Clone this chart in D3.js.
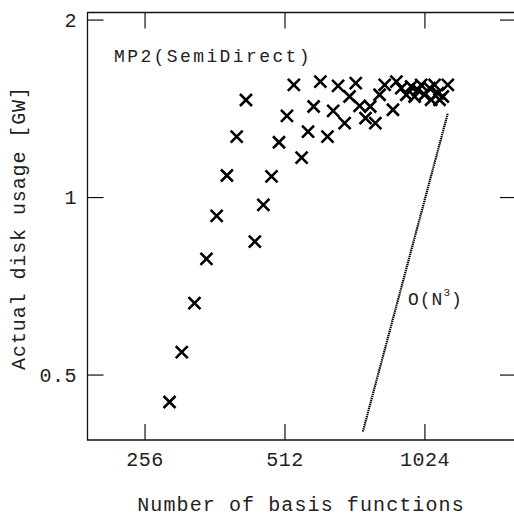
<!DOCTYPE html>
<html>
<head>
<meta charset="utf-8">
<script src="https://cdn.jsdelivr.net/npm/d3@7"></script>
<style>
  body { margin: 0; background: white; overflow: hidden; }
  svg { display: block; }
  text { font-family: "Liberation Mono", "Courier New", monospace; fill: #222; }
</style>
</head>
<body>
<div id="chart"></div>
<script>
/* global d3 */

// Number of basis functions (x) and disk usage in GW (y)
var basisFunctions = [ 289, 307, 327, 347, 365, 384, 403, 422, 441, 460,
  479, 497, 517, 535, 556, 574, 590, 610, 632, 650,
  666, 688, 705, 727, 741, 763, 781, 801, 818, 839,
  874, 889, 911, 934, 957, 973, 989, 1005, 1022, 1048,
  1056, 1074, 1092, 1101, 1119, 1147 ];
var diskUsage = [ 0.450, 0.547, 0.662, 0.787, 0.931, 1.090, 1.269, 1.464, 0.842, 0.972,
  1.086, 1.241, 1.376, 1.553, 1.169, 1.294, 1.427, 1.573, 1.269, 1.403,
  1.547, 1.337, 1.484, 1.563, 1.431, 1.364, 1.427, 1.337, 1.494, 1.553,
  1.409, 1.573, 1.533, 1.494, 1.543, 1.484, 1.523, 1.553, 1.494, 1.533,
  1.465, 1.553, 1.503, 1.465, 1.484, 1.553 ];

// O(N^3) guide line end points
var guideN = [ 753, 1147 ];
var guideV = [ 0.401, 1.390 ];

var xTicks = [ 256, 512, 1024 ];
var yTicks = [ 0.5, 1, 2 ];
var yTickLabels = [ "0.5", "1", "2" ];

var width = 514,
  height = 517;

var data = basisFunctions.map( function( n, i ) { return [ n, diskUsage[ i ] ]; } );

// right edge of the frame lies outside the picture
var x = d3.scaleLog().base( 2 )
  .domain( [ 192.5, 1640 ] )
  .range( [ 87.5, 520 ] );

var y = d3.scaleLog().base( 2 )
  .domain( [ 0.388, 2.06 ] )
  .range( [ 440, 12.5 ] );

var svg = d3.select( "#chart" ).append( "svg" )
  .attr( "width", width )
  .attr( "height", height );

var x0 = x.range()[ 0 ];
var y0 = y.range()[ 0 ], y1 = y.range()[ 1 ];

// frame: left, top and bottom only (the right side is cut off)
svg.append( "path" )
  .attr( "d", "M" + width + "," + y1 + "H" + x0 + "V" + y0 + "H" + width )
  .style( "fill", "none" )
  .style( "stroke", "#111" )
  .style( "stroke-width", 1.3 );

// inward ticks on all four sides
var tickLen = 16;
var ticks = svg.append( "g" )
  .style( "stroke", "#111" )
  .style( "stroke-width", 1.2 );

xTicks.forEach( function( t ) {
  ticks.append( "line" ).attr( "x1", x( t ) ).attr( "x2", x( t ) )
    .attr( "y1", y0 ).attr( "y2", y0 - tickLen );
  ticks.append( "line" ).attr( "x1", x( t ) ).attr( "x2", x( t ) )
    .attr( "y1", y1 ).attr( "y2", y1 + tickLen );
} );

yTicks.forEach( function( t ) {
  ticks.append( "line" ).attr( "x1", x0 ).attr( "x2", x0 + tickLen )
    .attr( "y1", y( t ) ).attr( "y2", y( t ) );
  ticks.append( "line" ).attr( "x1", width ).attr( "x2", width - tickLen + 2 )
    .attr( "y1", y( t ) ).attr( "y2", y( t ) );
} );

// tick labels
svg.selectAll( ".label.x" )
  .data( xTicks )
  .enter()
  .append( "text" )
    .attr( "class", "label x" )
    .attr( "x", function( d ) { return x( d ); } )
    .attr( "y", 466 )
    .attr( "text-anchor", "middle" )
    .style( "font-size", "20px" )
    .style( "letter-spacing", "0.5px" )
    .text( function( d ) { return d; } );

svg.selectAll( ".label.y" )
  .data( yTicks )
  .enter()
  .append( "text" )
    .attr( "class", "label y" )
    .attr( "x", 77 )
    .attr( "y", function( d ) { return y( d ) + 6.5; } )
    .attr( "text-anchor", "end" )
    .style( "font-size", "20px" )
    .style( "letter-spacing", "0.5px" )
    .text( function( d, i ) { return yTickLabels[ i ]; } );

// axis titles
svg.append( "text" )
  .attr( "x", 301 )
  .attr( "y", 511 )
  .attr( "text-anchor", "middle" )
  .style( "font-size", "20px" )
  .style( "letter-spacing", "1.1px" )
  .text( "Number of basis functions" );

svg.append( "text" )
  .attr( "transform", "translate(25,228) rotate(-90)" )
  .attr( "text-anchor", "middle" )
  .style( "font-size", "20px" )
  .style( "letter-spacing", "0.9px" )
  .text( "Actual disk usage [GW]" );

// O(N^3) guide
svg.append( "line" )
  .attr( "x1", x( guideN[ 0 ] ) )
  .attr( "y1", y( guideV[ 0 ] ) )
  .attr( "x2", x( guideN[ 1 ] ) )
  .attr( "y2", y( guideV[ 1 ] ) )
  .style( "stroke", "#000" )
  .style( "stroke-width", 2.2 )
  .style( "stroke-dasharray", "1.4,0.7" );

var guideLabel = svg.append( "text" )
  .attr( "x", 408 )
  .attr( "y", 305 )
  .style( "font-size", "18px" )
  .style( "letter-spacing", "1px" )
  .text( "O(N" );
guideLabel.append( "tspan" )
  .attr( "dy", -9 )
  .style( "font-size", "11px" )
  .text( "3" );
guideLabel.append( "tspan" )
  .attr( "dy", 9 )
  .text( ")" );

svg.append( "text" )
  .attr( "x", 114 )
  .attr( "y", 61.5 )
  .style( "font-size", "18px" )
  .style( "letter-spacing", "2.4px" )
  .text( "MP2(SemiDirect)" );

// cross markers
var s = 6;
svg.selectAll( ".point" )
  .data( data )
  .enter()
  .append( "path" )
    .attr( "class", "point" )
    .attr( "transform", function( d ) { return "translate(" + x( d[ 0 ] ) + "," + y( d[ 1 ] ) + ")"; } )
    .attr( "d", "M" + -s + "," + -s + "L" + s + "," + s + "M" + -s + "," + s + "L" + s + "," + -s )
    .style( "stroke", "#000" )
    .style( "stroke-width", 2.6 )
    .style( "fill", "none" );
</script>
</body>
</html>
